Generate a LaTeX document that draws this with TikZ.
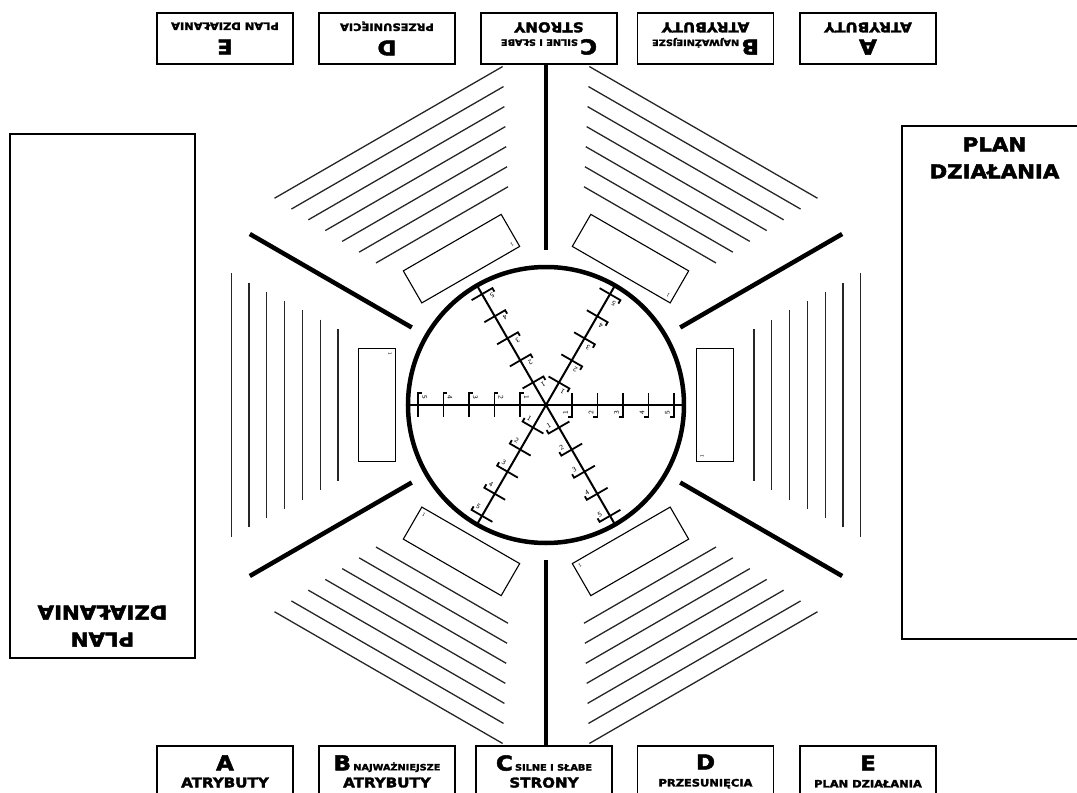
\documentclass[tikz,border=0pt]{standalone}
\usepackage{fontspec}
\newfontfamily\heavyfont[FakeStretch=1.12,FakeBold=2.5]{DejaVu Sans}
\usetikzlibrary{positioning}
\newcommand{\cardletter}[1]{{\fontsize{20.5}{17}\selectfont #1}}
\newcommand{\cardnote}[1]{{\fontsize{8.7}{17}\selectfont #1}}

\begin{document}
\begin{tikzpicture}[x=1pt, y=1pt,
  card/.style={draw, line width=1.5pt, minimum width=136pt, minimum height=51pt, inner sep=1pt, align=center, font=\heavyfont\bfseries\fontsize{13.5}{17}\selectfont},
  cardsmall/.style={card, font=\heavyfont\bfseries\fontsize{10.2}{17}\selectfont},
  planbox/.style={draw, line width=1.5pt, minimum width=185pt},
  plantext/.style={align=center, inner sep=0pt, font=\heavyfont\bfseries\fontsize{19}{27}\selectfont},
  slot/.style={draw, line width=1.1pt, minimum width=37pt, minimum height=113pt, inner sep=0pt},
  sepline/.style={line width=4.5pt},
  rowline/.style={draw=black!85, line width=1.3pt},
  spoke/.style={line width=2pt},
  ticknum/.style={font=\sffamily\fontsize{7}{7}\selectfont, inner sep=0pt}
]
  \useasboundingbox (-546,-388) rectangle (531,405);

  \node[planbox, minimum height=524pt] (planL) at (-443.5,9) {};
  \node[planbox, minimum height=513pt] (planR) at (448.5,22.5) {};
  \node[plantext, below=12pt of planR.north] (planRtext) {PLAN\\DZIAŁANIA};
  \node[plantext, rotate=180, anchor=north] (planLtext) at ([yshift=12pt]planL.south) {PLAN\\DZIAŁANIA};

  \node[card] (botA) at (-321,-366.5) {\cardletter{A}\\ATRYBUTY};
  \node[card] (botB) at (-159,-366.5) {\cardletter{B}\,\cardnote{NAJWAŻNIEJSZE}\\ATRYBUTY};
  \node[card] (botC) at (-2,-366.5) {\cardletter{C}\,\cardnote{SILNE I SŁABE}\\STRONY};
  \node[cardsmall] (botD) at (159.5,-366.5) {\cardletter{D}\\PRZESUNIĘCIA};
  \node[cardsmall] (botE) at (322,-366.5) {\cardletter{E}\\PLAN DZIAŁANIA};

  \node[card, rotate=180] (topA) at (322,366.5) {\cardletter{A}\\ATRYBUTY};
  \node[card, rotate=180] (topB) at (159.5,366.5) {\cardletter{B}\,\cardnote{NAJWAŻNIEJSZE}\\ATRYBUTY};
  \node[card, rotate=180] (topC) at (3,366.5) {\cardletter{C}\,\cardnote{SILNE I SŁABE}\\STRONY};
  \node[cardsmall, rotate=180] (topD) at (-159,366.5) {\cardletter{D}\\PRZESUNIĘCIA};
  \node[cardsmall, rotate=180] (topE) at (-321,366.5) {\cardletter{E}\\PLAN DZIAŁANIA};

  \foreach \a in {0,60,...,300}{
    \begin{scope}[rotate=\a]
      \draw[spoke] (0,0) -- (138,0);
      \foreach \t in {1,...,5}{
        \draw[spoke, line width=1.8pt] ({25.5*\t+0.5},12) -- ({25.5*\t+0.5},-12) -- ++(-4,0);
        \node[ticknum, rotate=\a+90] (num\a-\t) at ({25.5*\t-6},-8) {\t};
      }
      \foreach \k in {0,...,6}{
        \pgfmathsetmacro{\rowd}{208+17.8*\k}
        \pgfmathsetmacro{\rowh}{0.52*\rowd-32}
        \draw[rowline] (\rowd,-\rowh) -- (\rowd,\rowh);
      }
      \node[slot, rotate=\a] (slot\a) at (169,0) {};
      \node[ticknum, rotate=\a+90, font=\sffamily\fontsize{5}{5}\selectfont] (slotnum\a) at (156,-51) {1};
      \draw[sepline] (30:155) -- (30:342);
    \end{scope}
  }

  \node[draw, circle, line width=4.5pt, minimum size=276pt, inner sep=0pt] (dial) at (0,0) {};
\end{tikzpicture}
\end{document}
